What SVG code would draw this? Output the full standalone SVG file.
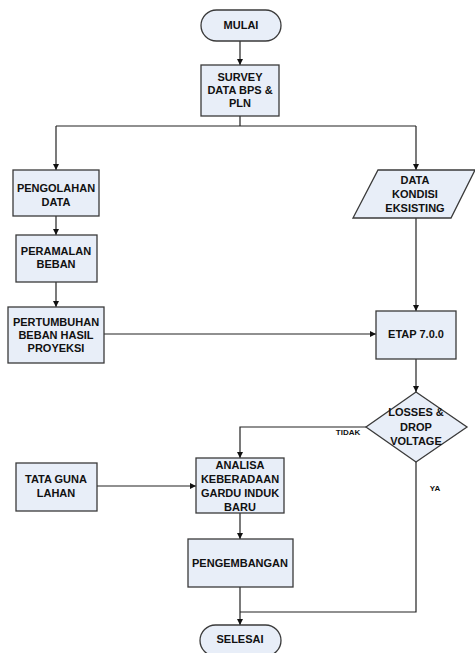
<svg xmlns="http://www.w3.org/2000/svg" width="475" height="653" viewBox="0 0 475 653">
<defs>
<marker id="arr" viewBox="0 0 10 10" refX="10" refY="5" markerWidth="6" markerHeight="6" markerUnits="userSpaceOnUse" orient="auto">
<path d="M0,0 L10,5 L0,10 z" fill="#111"/>
</marker>
<style>
.n{fill:#e8eef8;stroke:#3a3a3a;stroke-width:1.3}
.t{font-family:"Liberation Sans",Arial,sans-serif;font-weight:bold;font-size:11px;fill:#111;text-anchor:middle}
.s{font-family:"Liberation Sans",Arial,sans-serif;font-weight:bold;font-size:8px;fill:#111;text-anchor:middle}
.c{fill:none;stroke:#222;stroke-width:1.2}
</style>
</defs>
<rect width="475" height="653" fill="#fff"/>
<g id="connectors">
<path class="c" d="M240,41 V65" marker-end="url(#arr)"/>
<path class="c" d="M240,116 V126 M56,126 H416"/>
<path class="c" d="M56,126 V170" marker-end="url(#arr)"/>
<path class="c" d="M416,126 V170" marker-end="url(#arr)"/>
<path class="c" d="M56,216 V235" marker-end="url(#arr)"/>
<path class="c" d="M56,282 V307" marker-end="url(#arr)"/>
<path class="c" d="M104,334 H376" marker-end="url(#arr)"/>
<path class="c" d="M416,218 V311" marker-end="url(#arr)"/>
<path class="c" d="M416,359 V392" marker-end="url(#arr)"/>
<path class="c" d="M366,427 H240 V458" marker-end="url(#arr)"/>
<path class="c" d="M97,486 H196" marker-end="url(#arr)"/>
<path class="c" d="M240,513 V539" marker-end="url(#arr)"/>
<path class="c" d="M240,587 V625" marker-end="url(#arr)"/>
<path class="c" d="M416,462 V612 H240"/>
<text class="s" x="348" y="435">TIDAK</text>
<text class="s" x="435" y="491">YA</text>
</g>
<g id="mulai">
<rect class="n" x="201" y="10" width="80" height="31" rx="15.5"/>
<text class="t" x="241" y="29">MULAI</text>
</g>
<g id="survey">
<rect class="n" x="201" y="65" width="78" height="51"/>
<text class="t" x="240" y="81">SURVEY</text>
<text class="t" x="240" y="94">DATA BPS &amp;</text>
<text class="t" x="240" y="107">PLN</text>
</g>
<g id="pengolahan">
<rect class="n" x="13" y="170" width="86" height="46"/>
<text class="t" x="56" y="192">PENGOLAHAN</text>
<text class="t" x="56" y="206">DATA</text>
</g>
<g id="peramalan">
<rect class="n" x="16" y="235" width="81" height="47"/>
<text class="t" x="56" y="255">PERAMALAN</text>
<text class="t" x="56" y="268">BEBAN</text>
</g>
<g id="pertumbuhan">
<rect class="n" x="8" y="307" width="96" height="56"/>
<text class="t" x="56" y="326">PERTUMBUHAN</text>
<text class="t" x="56" y="339">BEBAN HASIL</text>
<text class="t" x="56" y="352">PROYEKSI</text>
</g>
<g id="data-kondisi">
<polygon class="n" points="378,170 475,170 451,218 353,218"/>
<text class="t" x="415" y="184">DATA</text>
<text class="t" x="415" y="198">KONDISI</text>
<text class="t" x="415" y="212">EKSISTING</text>
</g>
<g id="etap">
<rect class="n" x="376" y="311" width="80" height="48"/>
<text class="t" x="416" y="338">ETAP 7.0.0</text>
</g>
<g id="losses">
<polygon class="n" points="416,392 467,427 416,462 366,427"/>
<text class="t" x="416" y="416">LOSSES &amp;</text>
<text class="t" x="416" y="431">DROP</text>
<text class="t" x="416" y="445">VOLTAGE</text>
</g>
<g id="tata-guna">
<rect class="n" x="16" y="463" width="81" height="48"/>
<text class="t" x="56" y="483">TATA GUNA</text>
<text class="t" x="56" y="497">LAHAN</text>
</g>
<g id="analisa">
<rect class="n" x="196" y="458" width="88" height="55"/>
<text class="t" x="240" y="469">ANALISA</text>
<text class="t" x="240" y="483">KEBERADAAN</text>
<text class="t" x="240" y="497">GARDU INDUK</text>
<text class="t" x="240" y="511">BARU</text>
</g>
<g id="pengembangan">
<rect class="n" x="188" y="539" width="105" height="48"/>
<text class="t" x="240" y="567">PENGEMBANGAN</text>
</g>
<g id="selesai">
<rect class="n" x="200" y="625" width="81" height="31" rx="15.5"/>
<text class="t" x="240" y="643">SELESAI</text>
</g>
</svg>
